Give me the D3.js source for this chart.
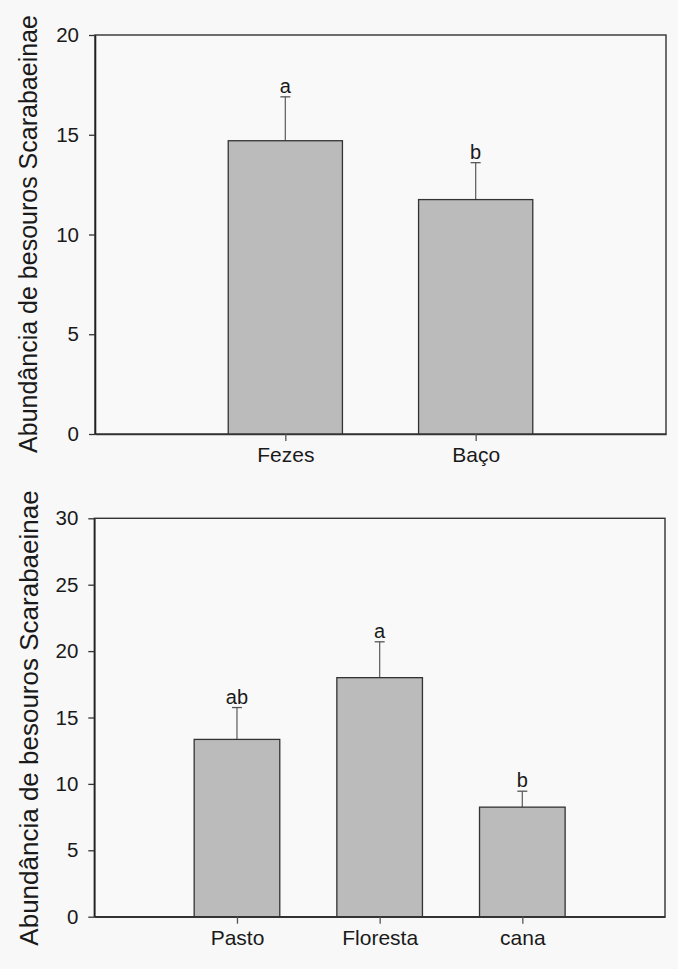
<!DOCTYPE html>
<html>
<head>
<meta charset="utf-8">
<script src="https://cdn.jsdelivr.net/npm/d3@7"></script>
<style>
  body { margin: 0; background: #f8f8f8; }
  svg { display: block; }
  .tick text { font-family: "Liberation Sans", Arial, sans-serif; fill: #1a1a1a; }
</style>
</head>
<body>
<svg id="chart" width="678" height="969"></svg>
<script>
/*******************************************************************************************/
// Data

var topCategories = ['Fezes', 'Baço'];
var topMeans = [14.7, 11.75];
var topErrors = [2.2, 1.85];
var topLetters = ['a', 'b'];
var topTicks = [0, 5, 10, 15, 20];

var bottomCategories = ['Pasto', 'Floresta', 'cana'];
var bottomMeans = [13.35, 18.0, 8.25];
var bottomErrors = [2.4, 2.7, 1.2];
var bottomLetters = ['ab', 'a', 'b'];
var bottomTicks = [0, 5, 10, 15, 20, 25, 30];

var yTitle = 'Abundância de besouros Scarabaeinae';

/*******************************************************************************************/
// Panel drawing

var svg = d3.select('#chart');
var font = '"Liberation Sans", Arial, sans-serif';

function panel(opts){
  var g = svg.append('g').attr('transform', 'translate(' + opts.left + ',' + opts.top + ')');
  var w = opts.width, h = opts.height;

  var x = d3.scalePoint().domain(opts.categories).range([0, w]).padding(1);
  var y = d3.scaleLinear().domain([0, d3.max(opts.ticks)]).range([h, 0]);
  var barW = x.step() * 0.6;

  var rows = opts.categories.map(function(c, i){
    return { cat: c, mean: opts.means[i], err: opts.errors[i], letter: opts.letters[i] };
  });

  // frame
  g.append('rect').attr('x', 0).attr('y', 0).attr('width', w).attr('height', h)
    .attr('fill', '#f9f9f9').attr('stroke', '#333').attr('stroke-width', 1.4);

  // error bars
  rows.forEach(function(d){
    var cx = x(d.cat);
    g.append('line').attr('x1', cx).attr('x2', cx).attr('y1', y(d.mean)).attr('y2', y(d.mean + d.err))
      .attr('stroke', '#666').attr('stroke-width', 1.3);
    g.append('line').attr('x1', cx - 5).attr('x2', cx + 5).attr('y1', y(d.mean + d.err)).attr('y2', y(d.mean + d.err))
      .attr('stroke', '#555').attr('stroke-width', 1.3);
    g.append('text').attr('x', cx).attr('y', y(d.mean + d.err) - 4)
      .attr('text-anchor', 'middle').style('font-family', font).style('font-size', '20px')
      .attr('fill', '#1a1a1a').text(d.letter);
  });

  // bars
  g.selectAll('rect.bar').data(rows).enter().append('rect').attr('class', 'bar')
    .attr('x', function(d){ return x(d.cat) - barW / 2; })
    .attr('y', function(d){ return y(d.mean); })
    .attr('width', barW)
    .attr('height', function(d){ return h - y(d.mean); })
    .attr('fill', '#bbbbbb').attr('stroke', '#333').attr('stroke-width', 1.3);

  // axes
  var yAxis = g.append('g').call(d3.axisLeft(y).tickValues(opts.ticks).tickSize(6).tickSizeOuter(0)
    .tickPadding(10).tickFormat(d3.format('d')));
  yAxis.select('.domain').attr('stroke', '#222').attr('stroke-width', 1.6);
  yAxis.selectAll('.tick line').attr('stroke', '#333').attr('stroke-width', 1.3);
  yAxis.selectAll('.tick text').style('font-size', '20.5px');

  var xAxis = g.append('g').attr('transform', 'translate(0,' + h + ')')
    .call(d3.axisBottom(x).tickSize(7).tickSizeOuter(0).tickPadding(6));
  xAxis.select('.domain').attr('stroke', '#333').attr('stroke-width', 1.6);
  xAxis.selectAll('.tick line').attr('stroke', '#555').attr('stroke-width', 1.3);
  xAxis.selectAll('.tick text').style('font-size', '21px');

  // y title
  svg.append('text')
    .attr('transform', 'translate(' + opts.titleX + ',' + opts.titleY + ') rotate(-90)')
    .attr('text-anchor', 'middle').style('font-family', font).style('font-size', opts.titleSize + 'px')
    .attr('fill', '#1a1a1a').text(yTitle);
}

panel({ left: 95, top: 35, width: 571, height: 399, categories: topCategories, means: topMeans,
        errors: topErrors, letters: topLetters, ticks: topTicks, titleX: 37, titleY: 234, titleSize: 25 });

panel({ left: 94.3, top: 518.3, width: 570.7, height: 398.4, categories: bottomCategories, means: bottomMeans,
        errors: bottomErrors, letters: bottomLetters, ticks: bottomTicks, titleX: 38, titleY: 718, titleSize: 26 });
</script>
</body>
</html>
